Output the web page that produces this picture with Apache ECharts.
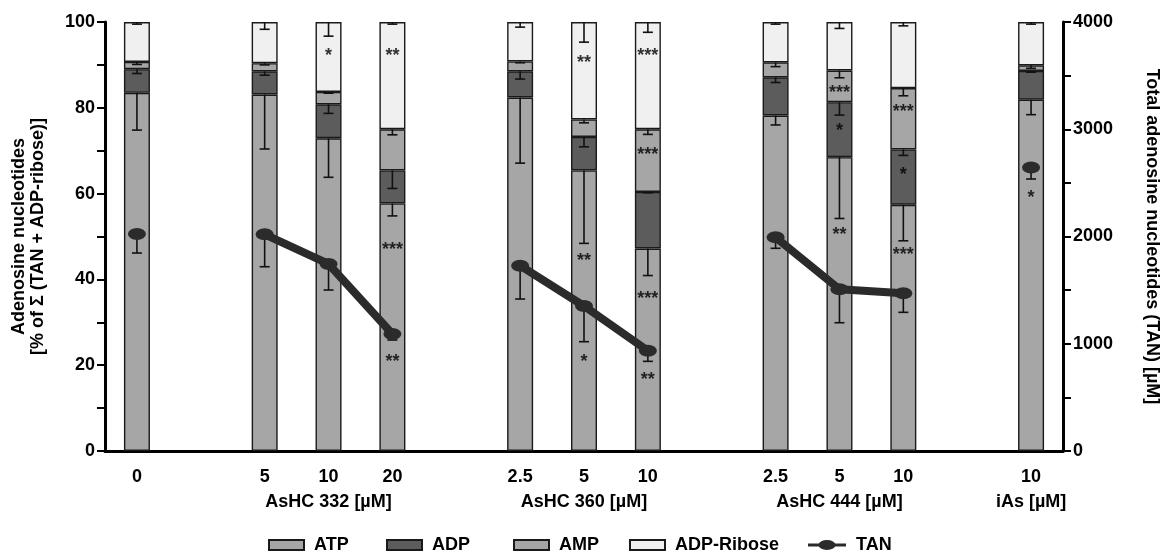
<!DOCTYPE html>
<html>
<head>
<meta charset="utf-8">
<script src="https://cdn.jsdelivr.net/npm/echarts@6/dist/echarts.min.js"></script>
<style>
  html, body { margin: 0; padding: 0; background: #fff; }
  #chart { width: 1161px; height: 553px; }
</style>
</head>
<body>
<div id="chart"></div>
<script>
// categories (empty slots separate the groups)
const categories = ['0', '', '5', '10', '20', '', '2.5', '5', '10', '', '2.5', '5', '10', '', '10'];
const groupLabels = ['', '', '', 'AsHC 332 [µM]', '', '', '', 'AsHC 360 [µM]', '', '', '', 'AsHC 444 [µM]', '', '', 'iAs [µM]'];

// stacked segments, % of total
const atp  = [83.5, '-', 83.1, 72.9, 57.7, '-', 82.4, 65.4, 47.2, '-', 78.2, 68.5, 57.4, '-', 81.9];
const adp  = [5.5, '-', 5.4, 7.9, 7.7, '-', 6.1, 7.8, 13.2, '-', 8.9, 12.8, 12.9, '-', 6.7];
const amp  = [1.7, '-', 1.9, 2.9, 9.6, '-', 2.3, 4.1, 14.6, '-', 3.5, 7.4, 14.3, '-', 1.3];
const adpr = [9.3, '-', 9.6, 16.3, 25.0, '-', 9.2, 22.7, 25.0, '-', 9.4, 11.3, 15.4, '-', 10.1];

// error bars (drawn downward from each segment top)
const atpErr  = [8.7, 0, 12.7, 9.1, 2.9, 0, 15.3, 17.0, 6.3, 0, 2.2, 14.3, 8.4, 0, 3.5];
const adpErr  = [1.0, 0, 0.9, 2.1, 4.2, 0, 1.8, 2.3, 0.2, 0, 1.2, 3.0, 1.4, 0, 0.3];
const ampErr  = [0.6, 0, 0.4, 0.3, 1.3, 0, 0.3, 0.8, 1.2, 0, 1.0, 1.7, 1.8, 0, 0.7];
const adprErr = [0.5, 0, 1.7, 3.3, 0.5, 0, 1.2, 4.7, 2.4, 0, 0.5, 1.5, 0.9, 0, 0.5];

// total adenosine nucleotides, µM
const tan    = [2023, null, 2020, 1744, 1091, null, 1728, 1352, 935, null, 1992, 1508, 1470, null, 2644];
const tanErr = [177, 0, 302, 243, 56, 0, 311, 333, 99, 0, 102, 312, 177, 0, 108];

// significance marks: [category index, left-axis value, text]
const stars = [
  [3, 93.2, '*'],
  [4, 93.3, '**'], [4, 48.0, '***'], [4, 22.0, '**'],
  [7, 91.5, '**'], [7, 45.5, '**'], [7, 21.8, '*'],
  [8, 93.3, '***'], [8, 70.2, '***'], [8, 36.6, '***'], [8, 17.6, '**'],
  [11, 84.5, '***'], [11, 75.8, '*'], [11, 51.4, '**'],
  [12, 80.1, '***'], [12, 65.5, '*'], [12, 46.9, '***'],
  [14, 60.1, '*']
];

const FONT = 'Liberation Sans';
const txt = { fontFamily: FONT, fontSize: 18, fontWeight: 'bold', color: '#000' };

// error bar data in stacked coordinates
function errData(base, seg, err) {
  const out = [];
  for (let i = 0; i < categories.length; i++) {
    if (seg[i] === '-' || seg[i] == null) continue;
    const top = base[i] + seg[i];
    out.push([i, top, top - err[i]]);
  }
  return out;
}
const zeros = categories.map(() => 0);
const lvl1 = atp.map(v => (v === '-' ? 0 : v));
const lvl2 = lvl1.map((v, i) => v + (adp[i] === '-' ? 0 : adp[i]));
const lvl3 = lvl2.map((v, i) => v + (amp[i] === '-' ? 0 : amp[i]));
const stackErrors = []
  .concat(errData(zeros, atp, atpErr))
  .concat(errData(lvl1, adp, adpErr))
  .concat(errData(lvl2, amp, ampErr))
  .concat(errData(lvl3, adpr, adprErr));
const tanErrors = [];
tan.forEach((v, i) => { if (v != null) tanErrors.push([i, v, v - tanErr[i]]); });

function renderErr(params, api) {
  const a = api.coord([api.value(0), api.value(1)]);
  const b = api.coord([api.value(0), api.value(2)]);
  const st = { stroke: '#111', lineWidth: 1.6 };
  return {
    type: 'group',
    children: [
      { type: 'line', shape: { x1: a[0], y1: a[1], x2: b[0], y2: b[1] }, style: st },
      { type: 'line', shape: { x1: b[0] - 5, y1: b[1], x2: b[0] + 5, y2: b[1] }, style: st }
    ]
  };
}

const barBorder = { borderColor: '#1a1a1a', borderWidth: 1.4 };
function barSeries(name, data, color) {
  return {
    name: name, type: 'bar', stack: 'total', data: data, barWidth: 26,
    itemStyle: Object.assign({ color: color }, barBorder)
  };
}

function legendAt(name, left, icon, width) {
  return {
    data: [{ name: name, icon: icon || 'rect' }], left: left, top: 531,
    itemWidth: width || 35, itemHeight: 10,
    textStyle: Object.assign({}, txt, { padding: [0, 0, 0, 5] }),
    selectedMode: false
  };
}
// line with an ellipse marker, for the TAN legend entry
const tanIcon = 'path://M0 3.5H38V6.5H0Z M10.5 5A8.5 5 0 1 1 27.5 5A8.5 5 0 1 1 10.5 5Z';

const chart = echarts.init(document.getElementById('chart'));
chart.setOption({
  animation: false,
  grid: { left: 105, right: 98, top: 22, bottom: 102, outerBoundsMode: 'none', containLabel: false },
  legend: [
    legendAt('ATP', 263),
    legendAt('ADP', 381),
    legendAt('AMP', 508),
    legendAt('ADP-Ribose', 624),
    legendAt('TAN', 803, tanIcon, 38)
  ],
  xAxis: {
    type: 'category', data: categories,
    axisLine: { lineStyle: { color: '#000', width: 3 } },
    axisTick: { length: 6, lineStyle: { color: '#000', width: 3 } },
    axisLabel: Object.assign({}, txt, {
      interval: 0, margin: 14, lineHeight: 25,
      formatter: (v, i) => (groupLabels[i] ? v + '\n' + groupLabels[i] : v)
    })
  },
  yAxis: [
    {
      type: 'value', min: 0, max: 100, interval: 10,
      name: 'Adenosine nucleotides\n[% of Σ (TAN + ADP-ribose)]',
      nameLocation: 'middle', nameRotate: 90, nameGap: 57,
      nameTextStyle: Object.assign({}, txt, { lineHeight: 19 }),
      axisLine: { show: true, lineStyle: { color: '#000', width: 3 } },
      axisTick: { show: true, length: 8, lineStyle: { color: '#000', width: 2 } },
      axisLabel: Object.assign({}, txt, { margin: 10, formatter: v => (v % 20 === 0 ? v : '') }),
      splitLine: { show: false }
    },
    {
      type: 'value', min: 0, max: 4000, interval: 500, position: 'right',
      name: 'Total adenosine nucleotides (TAN) [µM]',
      nameLocation: 'middle', nameRotate: -90, nameGap: 80,
      nameTextStyle: Object.assign({}, txt),
      axisLine: { show: true, lineStyle: { color: '#000', width: 3 } },
      axisTick: { show: true, length: 8, lineStyle: { color: '#000', width: 2 } },
      axisLabel: Object.assign({}, txt, { margin: 10, formatter: v => (v % 1000 === 0 ? v : '') }),
      splitLine: { show: false }
    }
  ],
  series: [
    barSeries('ATP', atp, '#a6a6a6'),
    barSeries('ADP', adp, '#5c5c5c'),
    barSeries('AMP', amp, '#a6a6a6'),
    barSeries('ADP-Ribose', adpr, '#f0f0f0'),
    {
      type: 'custom', name: 'err', data: stackErrors, renderItem: renderErr, z: 3
    },
    {
      type: 'custom', name: 'tanErr', yAxisIndex: 1, data: tanErrors, renderItem: renderErr, z: 4
    },
    {
      name: 'TAN', type: 'line', yAxisIndex: 1, data: tan, connectNulls: false,
      symbol: 'path://M0 6A9 6 0 1 0 18 6A9 6 0 1 0 0 6Z', symbolSize: [18, 12],
      lineStyle: { color: '#2b2b2b', width: 8 },
      itemStyle: { color: '#2b2b2b' }, z: 5
    },
    {
      type: 'scatter', name: 'stars', data: stars, symbolSize: 0, z: 6,
      label: {
        show: true, position: 'inside', formatter: p => p.value[2],
        fontFamily: FONT, fontSize: 18, fontWeight: 'bold', color: '#000', offset: [0, 5]
      }
    }
  ]
});
</script>
</body>
</html>
